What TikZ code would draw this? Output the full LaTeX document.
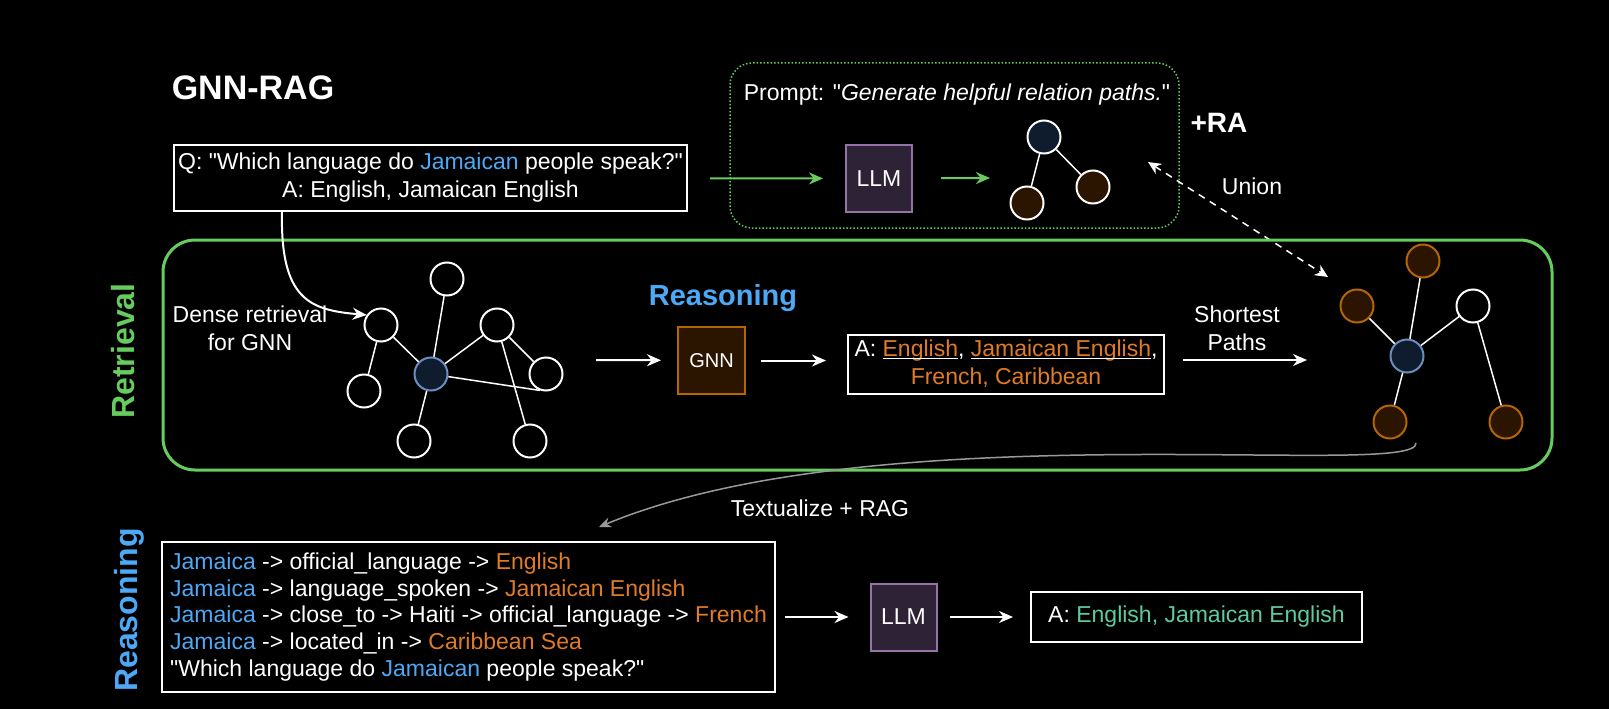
\documentclass[tikz,border=0pt]{standalone}
\usepackage{fontspec}
\setmainfont{Liberation Sans}[Ligatures=TeXOff]
\usetikzlibrary{arrows.meta}
\definecolor{gline}{RGB}{103,204,94}
\definecolor{jblue}{HTML}{4DA8F5}
\definecolor{aorange}{HTML}{E07B26}
\definecolor{tgreen}{HTML}{5FC9A0}
\definecolor{navyfill}{HTML}{0F1C2E}
\definecolor{navyline}{HTML}{6C8EBF}
\definecolor{brownfill}{HTML}{2B1500}
\definecolor{brownline}{HTML}{B46504}
\definecolor{llmfill}{HTML}{2D2236}
\definecolor{llmline}{HTML}{9673A6}
\begin{document}
\begin{tikzpicture}[x=1pt,y=-1pt,>={Stealth[length=14pt,width=12pt]}]
\tikzset{
  txt/.style={text=white,font=\fontsize{23}{28}\selectfont},
  box/.style={txt,draw=white,line width=2pt,align=center,inner sep=0pt},
  llm/.style={txt,draw=llmline,fill=llmfill,line width=2pt,minimum width=66pt,minimum height=67pt,inner sep=0pt},
  gnode/.style={circle,draw=white,line width=2pt,minimum size=33pt,inner sep=0pt},
  hub/.style={gnode,draw=navyline,fill=navyfill},
  hit/.style={gnode,draw=brownline,fill=brownfill},
  edge/.style={white,line width=1.5pt},
  warrow/.style={->,white,line width=2pt},
  garrow/.style={->,gline,line width=2pt}
}
\useasboundingbox (0,0) rectangle (1609,709);
\fill[black] (0,0) rectangle (1609,709);

\node[txt,font=\bfseries\fontsize{34}{40}\selectfont] (title) at (253,88) {GNN-RAG};
\node[box,minimum width=513pt,minimum height=66pt] (question) at (430.5,178) {Q: "Which language do \textcolor{jblue}{Jamaican} people speak?"\\A: English, Jamaican English};

\node[draw=gline,line width=1.5pt,dash pattern=on 1.5pt off 2pt,rounded corners=22pt,minimum width=449pt,minimum height=165pt] (rabox) at (954.5,145.5) {};
\node[txt] (prompt) at (957,95) {Prompt: "\textit{Generate helpful relation paths.}"};
\node[llm] (llmtop) at (879,178.5) {LLM};
\node[gnode,fill=navyfill] (ta) at (1044,137) {};
\node[gnode,fill=brownfill] (tb) at (1027,203) {};
\node[gnode,fill=brownfill] (tc) at (1093,187) {};
\draw[edge] (ta) -- (tb);
\draw[edge] (ta) -- (tc);
\coordinate (tree) at (990,178);
\draw[garrow,shorten <=22pt,shorten >=22pt] (question) -- (llmtop);
\draw[garrow,shorten <=28pt] (llmtop) -- (tree);
\node[txt,font=\bfseries\fontsize{28}{32}\selectfont] (ra) at (1219,123) {+RA};
\node[txt] (union) at (1252,186) {Union};
\coordinate (ua) at (1148,162);
\coordinate (ub) at (1328,277);
\draw[<->,white,line width=1.5pt,dash pattern=on 7pt off 6pt,>={Stealth[length=13pt,width=12pt]}] (ua) -- (ub);

\node[draw=gline,line width=3pt,rounded corners=32pt,minimum width=1389pt,minimum height=230pt] (retrieval) at (857.5,355) {};
\node[txt,text=gline,font=\bfseries\fontsize{32}{36}\selectfont,rotate=90] (retlabel) at (123,351) {Retrieval};
\node[txt,align=center] (dense) at (250,328) {Dense retrieval\\for GNN};

\node[gnode] (ga) at (447,279) {};
\node[gnode] (gb) at (381,325) {};
\node[gnode] (gc) at (364,391) {};
\node[hub] (g0) at (431,374) {};
\node[gnode] (gd) at (497,325) {};
\node[gnode] (ge) at (546,374) {};
\node[gnode] (gf) at (414,441) {};
\node[gnode] (gg) at (530,441) {};
\draw[edge] (gb) -- (g0);
\draw[edge] (gb) -- (gc);
\draw[edge] (ga) -- (g0);
\draw[edge] (g0) -- (gd);
\draw[edge] (g0) -- (ge.250);
\draw[edge] (gd) -- (ge);
\draw[edge] (gd) -- (gg);
\draw[edge] (g0) -- (gf);
\coordinate (qs) at (282,211);
\draw[warrow] (qs) .. controls (280,300) and (310,310) .. (gb.145);

\node[txt,text=jblue,font=\bfseries\fontsize{29}{34}\selectfont] (reas) at (723,298) {Reasoning};
\node[llm,draw=brownline,fill=brownfill,minimum width=67pt,font=\fontsize{20}{24}\selectfont] (gnn) at (711.5,360.5) {GNN};
\coordinate (g1) at (596,360);
\draw[warrow,shorten >=16pt] (g1) -- (gnn);
\node[box,minimum width=316pt,minimum height=59pt] (cand) at (1006,364.5) {A: \underline{\smash{\textcolor{aorange}{English}}}, \underline{\smash{\textcolor{aorange}{Jamaican English}}},\\\textcolor{aorange}{French, Caribbean}};
\draw[warrow,shorten <=15pt,shorten >=21pt] (gnn) -- (gnn -| cand.west);

\node[txt,align=center] (sp) at (1237,328) {Shortest\\Paths};
\coordinate (s1) at (1183,360);
\coordinate (s2) at (1307,360);
\draw[warrow] (s1) -- (s2);

\node[hub] (r0) at (1407,356) {};
\node[hit] (rb) at (1423,261) {};
\node[hit] (rc) at (1357,306) {};
\node[gnode] (rd) at (1473,306) {};
\node[hit] (re) at (1390,422) {};
\node[hit] (rf) at (1506,422) {};
\draw[edge] (r0) -- (rb);
\draw[edge] (r0) -- (rc);
\draw[edge] (r0) -- (rd);
\draw[edge] (r0) -- (re);
\draw[edge] (rd) -- (rf);

\coordinate (t1) at (1416,443);
\coordinate (t2) at (599,527);
\draw[->,gray!80,line width=1.5pt,>={Stealth[length=12pt,width=10pt]}] (t1) .. controls (1420,480) and (880,410) .. (t2);
\node[txt] (textualize) at (820,508) {Textualize + RAG};

\node[txt,text=jblue,font=\bfseries\fontsize{32}{36}\selectfont,rotate=90] (reas2) at (129,610) {Reasoning};
\node[box,align=left,inner xsep=3pt,minimum width=613pt,minimum height=150pt,font=\fontsize{23}{26.75}\selectfont] (facts) at (468.5,617) {\textcolor{jblue}{Jamaica} -> official\_language -> \textcolor{aorange}{English}\\
\textcolor{jblue}{Jamaica} -> language\_spoken -> \textcolor{aorange}{Jamaican English}\\
\textcolor{jblue}{Jamaica} -> close\_to -> Haiti -> official\_language -> \textcolor{aorange}{French}\\
\textcolor{jblue}{Jamaica} -> located\_in -> \textcolor{aorange}{Caribbean Sea}\\
"Which language do \textcolor{jblue}{Jamaican} people speak?"};
\node[llm] (llm2) at (903.5,617) {LLM};
\node[box,minimum width=331pt,minimum height=50pt] (answer) at (1196.5,617) {A: \textcolor{tgreen}{English, Jamaican English}};
\draw[warrow,shorten <=9pt,shorten >=21pt] (facts) -- (llm2);
\draw[warrow,shorten <=12pt,shorten >=17pt] (llm2) -- (answer);
\end{tikzpicture}
\end{document}
